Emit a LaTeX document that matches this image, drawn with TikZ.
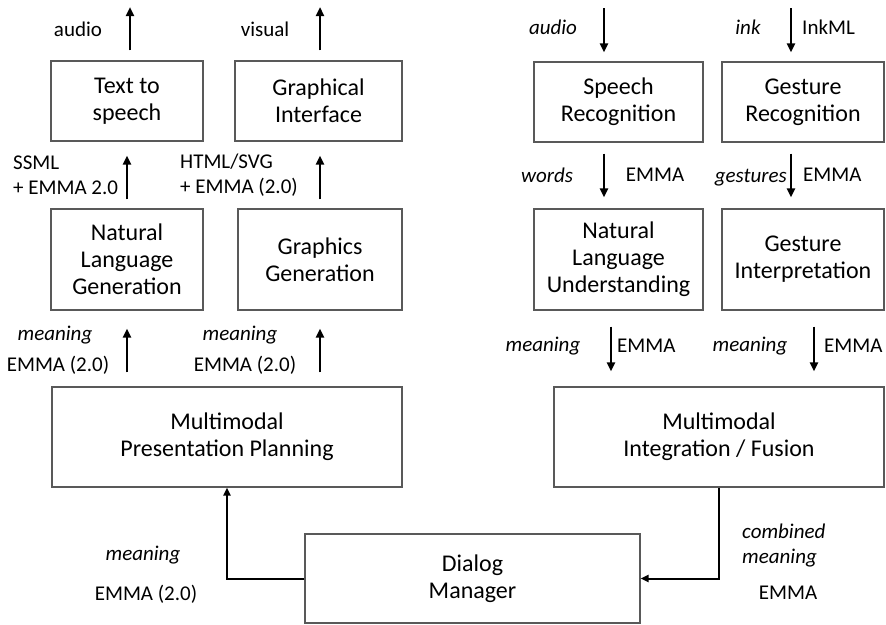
\documentclass[tikz,border=0pt]{standalone}
\usepackage{fontspec}
\setmainfont{Carlito}
\usetikzlibrary{shapes,arrows.meta,shadows}

\begin{document}
\begin{tikzpicture}[x=1pt,y=-1pt]
    \tikzstyle{box}=[rectangle,draw=black!65,line width=1.1pt,fill=white,align=center,inner sep=0pt,font=\fontsize{24}{27}\selectfont,drop shadow={shadow xshift=1.2pt,shadow yshift=-1.2pt,opacity=0.3}]
    \tikzstyle{lbl}=[inner sep=0pt,align=left,font=\fontsize{21}{25}\selectfont]
    \tikzstyle{flow}=[line width=2.6pt,-{Triangle[length=9pt,width=8pt]}]
    \tikzstyle{link}=[line width=2pt,-{Triangle[length=8pt,width=7pt]}]
    \useasboundingbox (0,0) rectangle (886,624);
    % output side
    \node[box,minimum width=152pt,minimum height=80pt] (tts) at (127,101) {Text to\\speech};
    \node[box,minimum width=167pt,minimum height=80pt] (gui) at (318.5,101) {Graphical\\Interface};
    \node[box,minimum width=152pt,minimum height=101pt] (nlg) at (127,259.5) {Natural\\Language\\Generation};
    \node[box,minimum width=164pt,minimum height=101pt] (ggen) at (320,259.5) {Graphics\\Generation};
    \node[box,minimum width=350pt,minimum height=100pt] (mpp) at (227,437) {Multimodal\\Presentation Planning};
    % input side
    \node[box,minimum width=169pt,minimum height=80pt] (sr) at (618.5,102) {Speech\\Recognition};
    \node[box,minimum width=162pt,minimum height=80pt] (gr) at (803,102) {Gesture\\Recognition};
    \node[box,minimum width=169pt,minimum height=101pt] (nlu) at (618.5,259.5) {Natural\\Language\\Understanding};
    \node[box,minimum width=162pt,minimum height=101pt] (gint) at (803,259.5) {Gesture\\Interpretation};
    \node[box,minimum width=330pt,minimum height=100pt] (mif) at (719,437) {Multimodal\\Integration / Fusion};
    \node[box,minimum width=335pt,minimum height=89pt] (dm) at (472.5,578.5) {Dialog\\Manager};
    \coordinate (audioout) at (130,7);
    \coordinate (visualout) at (320,7);
    \coordinate (audioin) at (604,8);
    \coordinate (inkin) at (791,8);
    \draw[flow,shorten <=10pt] (audioout |- tts.north) -- (audioout);
    \draw[flow,shorten <=10pt] (visualout |- gui.north) -- (visualout);
    \draw[flow,shorten <=9pt,shorten >=14pt] (nlg.north) -- (tts.south);
    \draw[flow,shorten <=9pt,shorten >=14pt] (ggen.north) -- (ggen.north |- gui.south);
    \draw[flow,shorten <=14pt,shorten >=18pt] (mpp.north -| nlg) -- (nlg.south);
    \draw[flow,shorten <=14pt,shorten >=18pt] (mpp.north -| ggen) -- (ggen.south);
    \draw[flow,shorten >=9pt] (audioin) -- (audioin |- sr.north);
    \draw[flow,shorten >=9pt] (inkin) -- (inkin |- gr.north);
    \draw[flow,shorten <=11pt,shorten >=11pt] (sr.south -| audioin) -- (nlu.north -| audioin);
    \draw[flow,shorten <=11pt,shorten >=11pt] (gr.south -| inkin) -- (gint.north -| inkin);
    \draw[flow,shorten <=16pt,shorten >=15pt] ([xshift=-7.5pt]nlu.south) -- ([xshift=-7.5pt]nlu.south |- mif.north);
    \draw[flow,shorten <=16pt,shorten >=15pt] ([xshift=11pt]gint.south) -- ([xshift=11pt]gint.south |- mif.north);
    \draw[link] (dm.west) -| (mpp.south);
    \draw[link] (mif.south) |- (dm.east);
    % labels
    \node[lbl] (l1) at (78,29) {audio};
    \node[lbl] (l2) at (265,29) {visual};
    \node[lbl,anchor=west] (l3) at (13,175) {SSML\\+ EMMA 2.0};
    \node[lbl,anchor=west] (l4) at (180,175) {HTML/SVG\\+ EMMA (2.0)};
    \node[lbl] (l5) at (55,335) {\itshape meaning};
    \node[lbl] (l6) at (58,365) {EMMA (2.0)};
    \node[lbl] (l7) at (240,335) {\itshape meaning};
    \node[lbl] (l8) at (245,365) {EMMA (2.0)};
    \node[lbl] (l9) at (553,27) {\itshape audio};
    \node[lbl] (l10) at (748,27) {\itshape ink};
    \node[lbl,anchor=west] (l11) at (802,27) {InkML};
    \node[lbl] (l12) at (547,175) {\itshape words};
    \node[lbl] (l13) at (655,175) {EMMA};
    \node[lbl,anchor=base east] (l14) at (787,182) {\itshape gestures};
    \node[lbl,anchor=west] (l15) at (803,175) {EMMA};
    \node[lbl] (l16) at (543,346) {\itshape meaning};
    \node[lbl,anchor=west] (l17) at (617,346) {EMMA};
    \node[lbl] (l18) at (750,346) {\itshape meaning};
    \node[lbl,anchor=west] (l19) at (824,346) {EMMA};
    \node[lbl] (l20) at (143,555) {\itshape meaning};
    \node[lbl] (l21) at (146,594) {EMMA (2.0)};
    \node[lbl,anchor=west] (l22) at (742,546) {\itshape combined\\\itshape meaning};
    \node[lbl] (l23) at (788,593) {EMMA};
\end{tikzpicture}
\end{document}
